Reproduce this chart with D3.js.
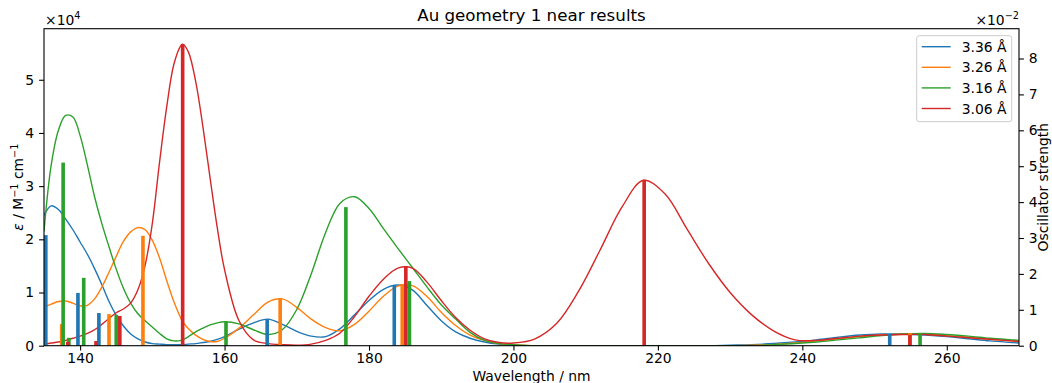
<!DOCTYPE html>
<html>
<head>
<meta charset="utf-8">
<script src="https://cdn.jsdelivr.net/npm/d3@7"></script>
<style>
  body { margin: 0; background: #fff; }
  svg text { font-family: "DejaVu Sans", sans-serif; fill: #000; }
</style>
</head>
<body>
<svg id="chart" width="1052" height="383"></svg>
<script>
// wavelength grid (nm) shared by the four broadened spectra
const wavelengths = [135,136,137,138,139,140,141,142,143,144,145,146,147,148,149,150,151,152,153,154,154.2,155,156,157,158,159,160,
  162,164,166,168,170,172,174,176,178,180,182,184,186,188,190,192,194,196,198,200,
  203,206,209,212,215,218,221,224,227,230,233,236,239,242,245,248,251,254,257,260,263,266,269,270];

// epsilon in units of 1e4 M^-1 cm^-1
const eps336 = [2.45,2.63,2.56,2.38,2.18,1.95,1.72,1.45,1.15,0.83,0.57,0.37,0.22,0.13,0.07,0.04,0.03,0.02,0.02,0.02,0.02,0.03,0.04,0.06,0.08,0.12,0.17,
  0.31,0.43,0.5,0.4,0.27,0.18,0.17,0.32,0.58,0.85,1.06,1.14,1.05,0.76,0.47,0.26,0.14,0.07,0.03,0.01,
  0,0,0,0,0,0,0,0,0,0.01,0.02,0.04,0.07,0.11,0.16,0.2,0.22,0.22,0.2,0.17,0.13,0.09,0.06,0.05];
const eps326 = [0.73,0.78,0.83,0.84,0.8,0.75,0.76,0.88,1.1,1.38,1.68,1.96,2.14,2.22,2.18,1.98,1.65,1.22,0.82,0.5,0.45,0.32,0.2,0.12,0.08,0.08,0.14,
  0.33,0.58,0.82,0.88,0.72,0.5,0.34,0.28,0.4,0.65,0.93,1.12,1.13,0.93,0.63,0.38,0.2,0.1,0.04,0.02,
  0,0,0,0,0,0,0,0,0,0,0.01,0.02,0.05,0.09,0.13,0.17,0.2,0.22,0.22,0.19,0.16,0.12,0.09,0.08];
const eps316 = [2.15,3.4,4.05,4.33,4.3,3.95,3.4,2.8,2.3,1.86,1.44,1.08,0.8,0.6,0.47,0.35,0.23,0.13,0.09,0.1,0.11,0.17,0.26,0.33,0.39,0.43,0.45,
  0.41,0.3,0.21,0.3,0.68,1.35,2.13,2.68,2.8,2.58,2.2,1.83,1.47,1.11,0.77,0.5,0.25,0.1,0.04,0.02,
  0,0,0,0,0,0,0,0,0,0,0,0.02,0.04,0.07,0.11,0.15,0.19,0.22,0.23,0.21,0.18,0.14,0.11,0.1];
const eps306 = [0.03,0.05,0.07,0.1,0.14,0.18,0.23,0.3,0.4,0.51,0.62,0.69,0.8,1.05,1.51,2.3,3.45,4.5,5.3,5.65,5.67,5.52,4.97,4.12,3.15,2.21,1.43,
  0.47,0.11,0.04,0.02,0.01,0.03,0.1,0.24,0.55,0.93,1.25,1.46,1.46,1.2,0.85,0.53,0.29,0.13,0.06,0.05,
  0.13,0.42,1.02,1.8,2.6,3.11,2.85,2.2,1.55,1.0,0.58,0.28,0.11,0.1,0.14,0.18,0.2,0.21,0.21,0.18,0.15,0.12,0.09,0.08];

// stick spectra: [wavelength nm, oscillator strength]
const sticks336 = [[135.25,0.0308],[139.7,0.0147],[142.6,0.0091],[165.9,0.0074],[183.5,0.0169],[252.1,0.0033]];
const sticks326 = [[137.45,0.0060],[144.0,0.0088],[148.7,0.0306],[167.7,0.0132],[184.6,0.0172],[254.9,0.0035]];
const sticks316 = [[137.65,0.0510],[138.45,0.0022],[140.5,0.0189],[145.0,0.0086],[160.2,0.0068],[176.8,0.0386],[185.6,0.0180],[256.3,0.0035]];
const sticks306 = [[138.3,0.0011],[142.2,0.0013],[145.5,0.0083],[154.2,0.0840],[185.1,0.0222],[218.1,0.0462],[254.9,0.0030]];

const seriesNames = ['3.36 Å', '3.26 Å', '3.16 Å', '3.06 Å'];
const colors = ['#1f77b4', '#ff7f0e', '#2ca02c', '#d62728'];
const xTicks = [140, 160, 180, 200, 220, 240, 260];
const yLeftTicks = [0, 1, 2, 3, 4, 5];
const yRightTicks = [0, 0.01, 0.02, 0.03, 0.04, 0.05, 0.06, 0.07, 0.08];

const spectra = [eps336, eps326, eps316, eps306];
const sticks = [sticks336, sticks326, sticks316, sticks306];

const plotLeft = 44, plotRight = 1019, plotTop = 28.7, plotBottom = 345.7;
const fs = 13.9;

const svg = d3.select('#chart');
const x = d3.scaleLinear().domain([135, 270]).range([plotLeft, plotRight]);
const yL = d3.scaleLinear().domain([0, 5.96]).range([plotBottom, plotTop]);
const yR = d3.scaleLinear().domain([0, 0.0883]).range([plotBottom, plotTop]);

svg.append('clipPath').attr('id', 'plot-clip')
  .append('rect').attr('x', plotLeft).attr('y', plotTop)
  .attr('width', plotRight - plotLeft).attr('height', plotBottom - plotTop);

const plot = svg.append('g').attr('clip-path', 'url(#plot-clip)');

const line = d3.line()
  .x((d) => x(d[0]))
  .y((d) => yL(d[1]))
  .curve(d3.curveCatmullRom.alpha(0.5));

spectra.forEach((vals, i) => {
  plot.append('path')
    .datum(wavelengths.map((w, j) => [w, vals[j]]))
    .attr('d', line)
    .attr('fill', 'none')
    .attr('stroke', colors[i])
    .attr('stroke-width', 1.4);
});

const barW = x(135.5) - x(135);
sticks.forEach((s, i) => {
  plot.append('g').selectAll('rect')
    .data(s)
    .enter()
    .append('rect')
    .attr('x', (d) => x(d[0]) - barW / 2)
    .attr('width', barW)
    .attr('y', (d) => yR(d[1]))
    .attr('height', (d) => yR(0) - yR(d[1]))
    .attr('fill', colors[i]);
});

// axes
function styleAxis(g) {
  g.select('.domain').remove();
  g.selectAll('.tick line').attr('stroke', '#000').attr('stroke-width', 1.1);
  g.selectAll('.tick text').attr('font-size', fs).attr('font-family', 'DejaVu Sans');
}

svg.append('g').attr('transform', `translate(0,${plotBottom})`)
  .call(d3.axisBottom(x).tickValues(xTicks).tickSize(4.9).tickPadding(2.8).tickFormat(d3.format('d')))
  .call(styleAxis);

svg.append('g').attr('transform', `translate(${plotLeft},0)`)
  .call(d3.axisLeft(yL).tickValues(yLeftTicks).tickSize(4.9).tickPadding(4.9).tickFormat(d3.format('d')))
  .call(styleAxis);

svg.append('g').attr('transform', `translate(${plotRight},0)`)
  .call(d3.axisRight(yR).tickValues(yRightTicks).tickSize(4.9).tickPadding(4.9).tickFormat((d) => Math.round(d * 100)))
  .call(styleAxis);

svg.append('rect')
  .attr('x', plotLeft).attr('y', plotTop)
  .attr('width', plotRight - plotLeft).attr('height', plotBottom - plotTop)
  .attr('fill', 'none').attr('stroke', '#000').attr('stroke-width', 1.1);

// labels
svg.append('text')
  .attr('x', (plotLeft + plotRight) / 2).attr('y', 21)
  .attr('text-anchor', 'middle').attr('font-size', 16.7)
  .text('Au geometry 1 near results');

svg.append('text')
  .attr('x', (plotLeft + plotRight) / 2).attr('y', 380.5)
  .attr('text-anchor', 'middle').attr('font-size', fs)
  .text('Wavelength / nm');

const yl = svg.append('text')
  .attr('transform', `translate(23,${(plotTop + plotBottom) / 2}) rotate(-90)`)
  .attr('text-anchor', 'middle').attr('font-size', fs);
yl.append('tspan').attr('font-style', 'italic').text('ε');
yl.append('tspan').text(' / M');
yl.append('tspan').attr('font-size', 9.7).attr('dy', -5.5).text('−1');
yl.append('tspan').attr('dy', 5.5).text(' cm');
yl.append('tspan').attr('font-size', 9.7).attr('dy', -5.5).text('−1');

svg.append('text')
  .attr('transform', `translate(1048,${(plotTop + plotBottom) / 2}) rotate(-90)`)
  .attr('text-anchor', 'middle').attr('font-size', fs)
  .text('Oscillator strength');

const offL = svg.append('text').attr('x', plotLeft + 1).attr('y', 25).attr('font-size', fs);
offL.append('tspan').text('×10');
offL.append('tspan').attr('font-size', 9.7).attr('dy', -6).text('4');

const offR = svg.append('text').attr('x', plotRight).attr('y', 25).attr('font-size', fs).attr('text-anchor', 'end');
offR.append('tspan').text('×10');
offR.append('tspan').attr('font-size', 9.7).attr('dy', -6).text('−2');

// legend
const legend = svg.append('g');
legend.append('rect')
  .attr('x', 916.7).attr('y', 35.7).attr('width', 95).attr('height', 86)
  .attr('rx', 2.5)
  .attr('fill', '#fff').attr('fill-opacity', 0.8)
  .attr('stroke', '#ccc').attr('stroke-width', 1);
const legendRows = [46.7, 67.3, 87.9, 108.5];
seriesNames.forEach((name, i) => {
  legend.append('line')
    .attr('x1', 921.7).attr('x2', 950.7)
    .attr('y1', legendRows[i]).attr('y2', legendRows[i])
    .attr('stroke', colors[i]).attr('stroke-width', 1.4);
  legend.append('text')
    .attr('x', 961.7).attr('y', legendRows[i] + 5)
    .attr('font-size', fs)
    .text(name);
});
</script>
</body>
</html>
